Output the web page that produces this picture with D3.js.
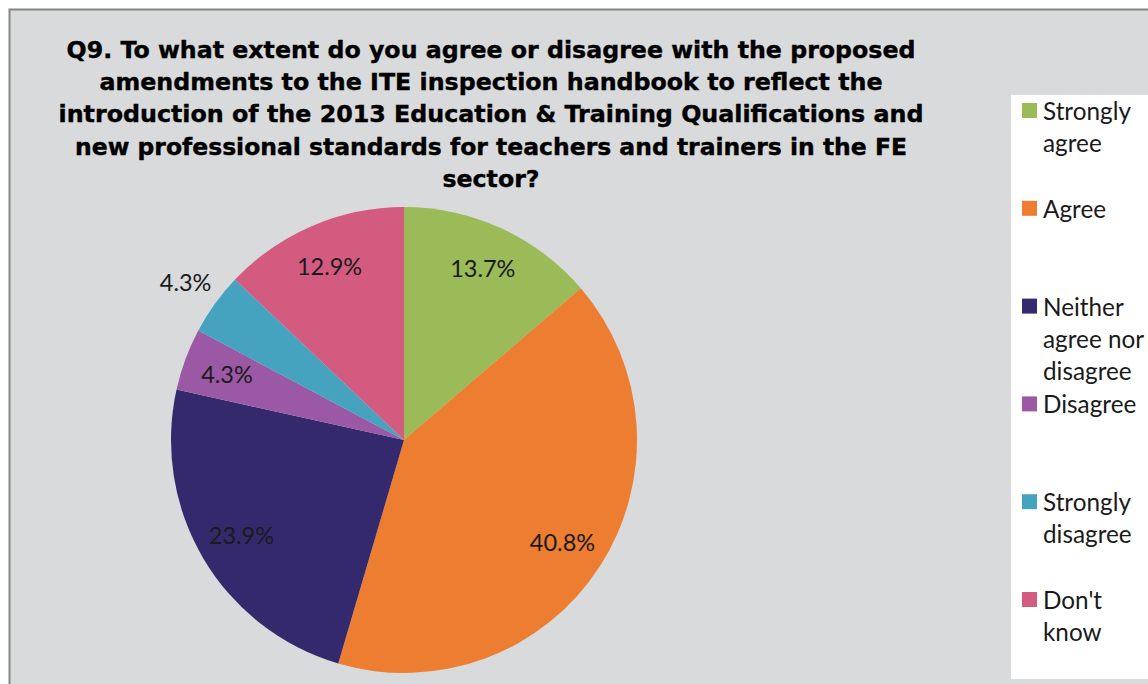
<!DOCTYPE html>
<html>
<head>
<meta charset="utf-8">
<script src="https://cdn.jsdelivr.net/npm/d3@7"></script>
<style>
  html, body { margin: 0; padding: 0; background: #ffffff; }
  svg { display: block; }
</style>
</head>
<body>
<svg id="chart" width="1148" height="684"></svg>
<script>
// Survey responses, Q9
const categories = ["Strongly agree", "Agree", "Neither agree nor disagree", "Disagree", "Strongly disagree", "Don't know"];
const percentages = [13.7, 40.8, 23.9, 4.3, 4.3, 12.9];
const colors = ["#9bbb59", "#ed7d31", "#35296d", "#9b59a5", "#46a3bf", "#d45b80"];
const legendLines = [["Strongly", "agree"], ["Agree"], ["Neither", "agree nor", "disagree"], ["Disagree"], ["Strongly", "disagree"], ["Don't", "know"]];
const titleLines = [
  "Q9. To what extent do you agree or disagree with the proposed",
  "amendments to the ITE inspection handbook to reflect the",
  "introduction of the 2013 Education & Training Qualifications and",
  "new professional standards for teachers and trainers in the FE",
  "sector?"
];
// labels placed outside the pie (best-fit overflow)
const outsideLabels = ["Strongly disagree"];

const svg = d3.select("#chart");
const W = 1148, H = 684;

// chart area with border
svg.append("rect")
  .attr("x", 9.5).attr("y", 9.5)
  .attr("width", W + 10).attr("height", H + 10)
  .attr("fill", "#d9dadc")
  .attr("stroke", "#868686").attr("stroke-width", 2);

// title
const titleWidths = [849, 783, 865, 832, 97];
const title = svg.append("g")
  .attr("font-family", "'DejaVu Sans', sans-serif")
  .attr("font-weight", "bold")
  .attr("font-size", 23.5)
  .attr("fill", "#000")
  .attr("stroke", "#000")
  .attr("stroke-width", 0.4)
  .attr("text-anchor", "middle");
titleLines.forEach((t, i) => {
  title.append("text")
    .attr("x", 491)
    .attr("y", 58 + i * 32.2)
    .attr("textLength", titleWidths[i])
    .attr("lengthAdjust", "spacingAndGlyphs")
    .text(t);
});

// pie
const cx = 404, cy = 440, R = 233;
const data = categories.map((c, i) => ({ category: c, value: percentages[i], color: colors[i] }));
const pie = d3.pie().value(d => d.value).sort(null);
const arcs = pie(data);
const arc = d3.arc().innerRadius(0).outerRadius(R);
const labelArcIn = d3.arc().innerRadius(R * 0.81).outerRadius(R * 0.81);
const labelArcOut = d3.arc().innerRadius(R * 1.155).outerRadius(R * 1.155);

const g = svg.append("g").attr("transform", `translate(${cx},${cy})`);
g.selectAll("path.slice")
  .data(arcs)
  .join("path")
  .attr("class", "slice")
  .attr("d", arc)
  .attr("fill", d => d.data.color);

g.selectAll("text.lbl")
  .data(arcs)
  .join("text")
  .attr("class", "lbl")
  .attr("transform", d => {
    const a = outsideLabels.includes(d.data.category) ? labelArcOut : labelArcIn;
    const [x, y] = a.centroid(d);
    return `translate(${x},${y})`;
  })
  .attr("text-anchor", "middle")
  .attr("dy", "0.36em")
  .attr("font-family", "Lato, sans-serif")
  .attr("font-size", 23.5)
  .attr("fill", "#1a1a1a")
  .text(d => d3.format(".1f")(d.data.value) + "%");

// legend
svg.append("rect")
  .attr("x", 1011).attr("y", 95)
  .attr("width", 150).attr("height", 584)
  .attr("fill", "#ffffff");

const legend = svg.append("g")
  .attr("font-family", "Lato, sans-serif")
  .attr("font-size", 24.3)
  .attr("fill", "#1a1a1a");
data.forEach((d, i) => {
  const base = 120 + i * 97.8;
  legend.append("rect")
    .attr("x", 1022).attr("y", base - 17)
    .attr("width", 15).attr("height", 15)
    .attr("fill", d.color);
  legendLines[i].forEach((line, j) => {
    legend.append("text")
      .attr("x", 1043)
      .attr("y", base + j * 32)
      .text(line);
  });
});
</script>
</body>
</html>
